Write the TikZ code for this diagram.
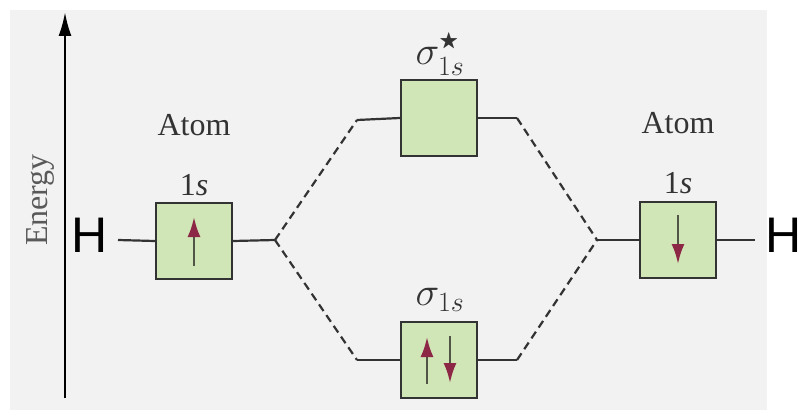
\RequirePackage{fix-cm}
\documentclass[tikz,border=0pt]{standalone}
\usepackage{amssymb}
\usepackage{fontspec}
\setmainfont{Liberation Serif}
\newfontfamily\hfont{Liberation Sans}
\usetikzlibrary{arrows.meta, positioning}

\definecolor{orbgreen}{RGB}{208,230,182}
\definecolor{spinred}{RGB}{140,40,70}
\definecolor{spinshaft}{RGB}{80,85,70}
\definecolor{paper}{RGB}{242,242,242}

\begin{document}
\begin{tikzpicture}[
    x=1pt, y=-1pt,
    orbital/.style = {rectangle, draw=black!80, line width=2.4pt, fill=orbgreen, minimum size=76pt, inner sep=0pt},
    level/.style = {draw=black!80, line width=2.2pt},
    link/.style = {level, dash pattern=on 8pt off 5pt},
    spin/.style = {draw=spinshaft, line width=2.4pt, -{Latex[length=20pt, width=13pt, color=spinred]}},
    lbl/.style = {font=\fontsize{32}{36}\selectfont, text=black!80, inner sep=0pt},
    mo/.style = {font=\fontsize{40}{44}\selectfont, text=black!80, inner sep=0pt},
    atomname/.style = {font=\hfont\fontsize{50}{54}\selectfont, inner sep=0pt},
    >=Stealth]

    % background and frame
    \useasboundingbox (0,0) rectangle (802,417);
    \fill[paper] (10,10) rectangle (767,410);

    % energy axis
    \coordinate (E0) at (65,398);
    \coordinate (E1) at (65,12);
    \draw[line width=2.4pt, -{Latex[length=24pt, width=13pt]}] (E0) -- (E1);
    \node[lbl, text=black!65, rotate=90] (Elbl) at (40,200) {Energy};

    % orbitals
    \node[orbital] (L) at (194,241) {};
    \node[orbital] (R) at (678,240) {};
    \node[orbital] (S) at (439,118) {};
    \node[orbital] (B) at (439,360) {};

    % labels
    \node[lbl] (Latom) at (194,125) {Atom};
    \node[lbl] (Ls) at (194,185) {1\textit{s}};
    \node[lbl] (Ratom) at (678,123) {Atom};
    \node[lbl] (Rs) at (678,183) {1\textit{s}};
    \node[mo] (Slbl) at (440,54) {$\sigma^{\scriptscriptstyle\bigstar}_{1s}$};
    \node[mo] (Blbl) at (440,300) {$\sigma_{1s}$};
    \node[atomname] (HL) at (90,235) {H};
    \node[atomname] (HR) at (784,235) {H};

    % junctions
    \coordinate (LJ) at (275,240);
    \coordinate (RJ) at (597,240);
    \coordinate (SL) at (357,120);
    \coordinate (SR) at (517,118);
    \coordinate (BL) at (357,360);
    \coordinate (BR) at (517,360);
    \coordinate (LE) at (118,240);
    \coordinate (RE) at (755,240);

    % levels
    \draw[level] (LE) -- (L.west);
    \draw[level] (L.east) -- (LJ);
    \draw[level] (R.west) -- (RJ);
    \draw[level] (R.east) -- (RE);
    \draw[level] (SL) -- (S.west);
    \draw[level] (S.east) -- (SR);
    \draw[level] (BL) -- (B.west);
    \draw[level] (B.east) -- (BR);

    % correlation lines
    \draw[link] (LJ) -- (SL);
    \draw[link] (LJ) -- (BL);
    \draw[link] (SR) -- (RJ);
    \draw[link] (BR) -- (RJ);

    % electrons
    \draw[spin] ([yshift=-25pt]L.center) -- ([yshift=24pt]L.center);
    \draw[spin] ([yshift=25pt]R.center) -- ([yshift=-24pt]R.center);
    \draw[spin] ([xshift=-12pt, yshift=-24pt]B.center) -- ([xshift=-12pt, yshift=23pt]B.center);
    \draw[spin] ([xshift=11pt, yshift=24pt]B.center) -- ([xshift=11pt, yshift=-23pt]B.center);

\end{tikzpicture}
\end{document}
